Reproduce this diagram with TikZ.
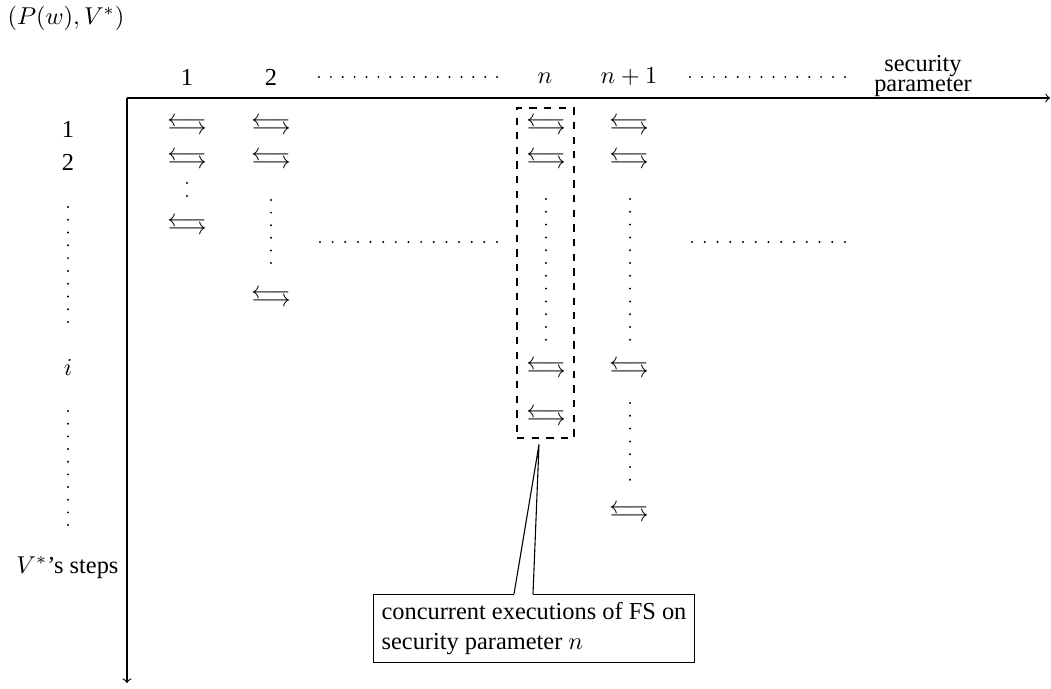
\documentclass[tikz,border=0pt]{standalone}
\usepackage[no-math]{fontspec}
\setmainfont{Liberation Serif}
\usetikzlibrary{calc}
\newcommand{\xchg}{\ensuremath{\mathrel{\ooalign{\raisebox{1.7pt}{$\longleftarrow$}\cr\raisebox{-1.7pt}{$\longrightarrow$}}}}}
\tikzset{
  xa/.style={inner sep=0pt},
  lab/.style={inner sep=1pt},
  axis/.style={->, line width=0.45pt},
  dbox/.style={draw, dashed, line width=0.8pt, minimum width=23.4pt, minimum height=135.3pt, inner sep=0pt},
  cbox/.style={draw, fill=white, align=left, anchor=north west, inner sep=3.3pt, line width=0.45pt},
}
\newcommand{\vdotsat}[4]{\foreach \k in {0,...,#4}{\fill ({#1},{#2+\k*#3}) circle (1.1);}}
\newcommand{\hdotsat}[4]{\foreach \k in {0,...,#4}{\fill ({#1+\k*#3},{#2}) circle (1.1);}}
\begin{document}
\begin{tikzpicture}[x=0.41pt, y=-0.41pt]
\useasboundingbox (0,0) rectangle (1051,688);
% title
\node[lab] (tl) at (66,18) {$(P(w),V^*)$};
% axes
\coordinate (O) at (127,98);
\coordinate (xe) at (1050,98);
\coordinate (ye) at (127,683);
\draw[axis] (O) -- (xe);
\draw[axis] (O) -- (ye);
% column labels
\node[lab] (c1) at (187,77) {1};
\node[lab] (c2) at (271,77) {2};
\node[lab] (cn) at (545,78) {$n$};
\node[lab] (cn1) at (629,77) {$n+1$};
\node[lab, align=center] (sp) at (923,76) {security\\[-4pt]parameter};
\hdotsat{319}{77}{11.87}{15}
\hdotsat{690}{77}{11.92}{13}
% row labels
\node[lab] (r1) at (68,129) {1};
\node[lab] (r2) at (68,162) {2};
\node[lab] (ri) at (68,367) {$i$};
\node[lab] (rv) at (67.5,568) {$V^*$'s steps};
\vdotsat{68}{207}{12.78}{9}
\vdotsat{68}{411}{12.67}{9}
% column 1
\node[xa] (a11) at (187,126) {\xchg};
\node[xa] (a12) at (187,160) {\xchg};
\vdotsat{187}{183}{13}{1}
\node[xa] (a13) at (187,226) {\xchg};
% column 2
\node[xa] (a21) at (271,126) {\xchg};
\node[xa] (a22) at (271,160) {\xchg};
\vdotsat{271}{200}{12.6}{5}
\node[xa] (a23) at (271,298) {\xchg};
% middle dots
\hdotsat{320}{242}{12.64}{14}
\hdotsat{692}{242}{12.75}{12}
% column n
\node[dbox] (db) at (545.5,273) {};
\node[xa] (an1) at (546,126) {\xchg};
\node[xa] (an2) at (546,160) {\xchg};
\vdotsat{546}{199}{12.8}{11}
\node[xa] (an3) at (546,369) {\xchg};
\node[xa] (an4) at (546,417) {\xchg};
% column n+1
\node[xa] (am1) at (629,126) {\xchg};
\node[xa] (am2) at (629,160) {\xchg};
\vdotsat{630}{199}{12.8}{11}
\node[xa] (am3) at (629,369) {\xchg};
\vdotsat{630}{403}{12.8}{6}
\node[xa] (am4) at (629,513) {\xchg};
% callout
\node[cbox] (cb) at (373,594) {concurrent executions of FS on\\security parameter $n$};
\coordinate (tip) at ($(db.south)+(-6.5,5.5)$);
\coordinate (pl) at ($(cb.north west)+(141,0)$);
\coordinate (pr) at ($(cb.north west)+(160,0)$);
\draw[white, line width=1.2pt] (pl) -- (pr);
\draw[line width=0.45pt] (pl) -- (tip) -- (pr);
\end{tikzpicture}
\end{document}
